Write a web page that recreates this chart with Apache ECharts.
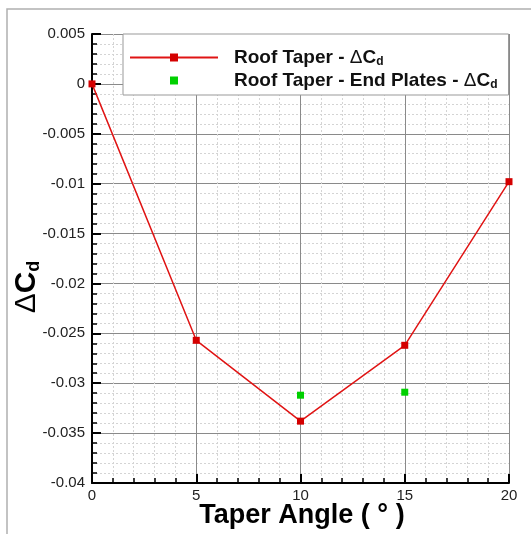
<!DOCTYPE html>
<html><head><meta charset="utf-8">
<script src="https://cdn.jsdelivr.net/npm/echarts@6/dist/echarts.min.js"></script>
<style>html,body{margin:0;padding:0;background:#fff}#c{width:531px;height:534px}</style>
</head><body><div id="c"></div>
<script>
const taperAngles = [0, 5, 10, 15, 20];
const roofTaperDCd = [0, -0.0257, -0.0338, -0.0262, -0.0098];
const endPlateAngles = [10, 15];
const endPlatesDCd = [-0.0312, -0.0309];
const xTicks = [0, 5, 10, 15, 20];
const yTicks = [0.005, 0, -0.005, -0.01, -0.015, -0.02, -0.025, -0.03, -0.035, -0.04];
const seriesNames = ['Roof Taper - \u0394C_d', 'Roof Taper - End Plates - \u0394C_d'];

const FF = '"Liberation Sans", Arial, Helvetica, sans-serif';
const chart = echarts.init(document.getElementById('c'), null, {renderer: 'canvas'});

function tickLabel(list, v) {
  let best = list[0];
  for (const t of list) if (Math.abs(t - v) < Math.abs(best - v)) best = t;
  return String(best);
}

const axisCommon = {
  type: 'value',
  axisLine: {show: true, onZero: false, lineStyle: {color: '#000', width: 2}},
  axisTick: {show: true, inside: true, length: 9, lineStyle: {color: '#000', width: 2}},
  minorTick: {show: true, splitNumber: 5, length: 5, lineStyle: {color: '#000', width: 1.5}},
  splitLine: {show: true, lineStyle: {color: '#8a8a8a', width: 1}},
  minorSplitLine: {show: true, lineStyle: {color: '#d4d4d4', width: 1, type: [2, 2]}},
};

chart.setOption({
  animation: false,
  backgroundColor: '#fff',
  grid: {left: 92, right: 22, top: 34, bottom: 51, containLabel: false},
  xAxis: Object.assign({}, axisCommon, {
    min: xTicks[0], max: xTicks[xTicks.length - 1], interval: 5,
    axisLabel: {fontFamily: FF, fontSize: 15, color: '#222', margin: 5,
      formatter: v => tickLabel(xTicks, v)}
  }),
  yAxis: Object.assign({}, axisCommon, {
    min: yTicks[yTicks.length - 1], max: yTicks[0], interval: 0.005,
    axisLabel: {fontFamily: FF, fontSize: 15, color: '#222', margin: 7,
      formatter: v => tickLabel(yTicks, v)}
  }),
  legend: {
    orient: 'vertical', left: 123, top: 34,
    padding: [12, 11, 3, 6],
    itemGap: 0, itemWidth: 88, itemHeight: 10,
    backgroundColor: '#fff', borderColor: '#999', borderWidth: 1,
    formatter: name => {
      const base = name.replace('\u0394C_d', '');
      return '{sp|}{a|' + base + '}{g|\u0394}{a|C}{b|d}';
    },
    textStyle: {
      fontFamily: FF, fontSize: 19, fontWeight: 'bold', color: '#111', lineHeight: 23,
      rich: {
        sp: {width: 11},
        a: {fontFamily: FF, fontSize: 19, fontWeight: 'bold', color: '#111', lineHeight: 23},
        g: {fontFamily: FF, fontSize: 19, fontWeight: 'normal', color: '#111', lineHeight: 23},
        b: {fontFamily: FF, fontSize: 12, fontWeight: 'bold', color: '#111', lineHeight: 12, padding: [9, 0, 0, 0]}
      }
    },
    data: [{name: seriesNames[0]}, {name: seriesNames[1]}]
  },
  graphic: [
    {type: 'rect', silent: true, z: -10, shape: {x: 7, y: 9, width: 700, height: 700},
      style: {fill: 'none', stroke: '#b0b0b0', lineWidth: 1.5}},
    {type: 'text', silent: true, x: 302, y: 516,
      style: {text: 'Taper Angle ( \u00b0 )', font: 'bold 27px ' + FF, fill: '#000',
        align: 'center', verticalAlign: 'middle'}},
    {type: 'text', silent: true, x: 27, y: 287, rotation: Math.PI / 2,
      style: {text: '{g|\u0394}{a|C}{b|d}', align: 'center', verticalAlign: 'middle',
        rich: {
          g: {font: 'normal 30px ' + FF, fill: '#000', lineHeight: 34},
          a: {font: 'bold 30px ' + FF, fill: '#000', lineHeight: 34},
          b: {font: 'bold 18px ' + FF, fill: '#000', lineHeight: 18, padding: [15, 0, 0, 0]}
        }}}
  ],
  series: [
    {
      name: seriesNames[0], type: 'line',
      data: taperAngles.map((x, i) => [x, roofTaperDCd[i]]),
      symbol: 'rect', symbolSize: 7,
      lineStyle: {color: '#e01414', width: 1.5},
      itemStyle: {color: '#d40000'},
      z: 3
    },
    {
      name: seriesNames[1], type: 'line',
      data: endPlateAngles.map((x, i) => [x, endPlatesDCd[i]]),
      symbol: 'rect', symbolSize: 7,
      lineStyle: {width: 0, opacity: 0},
      itemStyle: {color: '#00d000'},
      z: 4
    }
  ]
});
</script>
</body></html>
